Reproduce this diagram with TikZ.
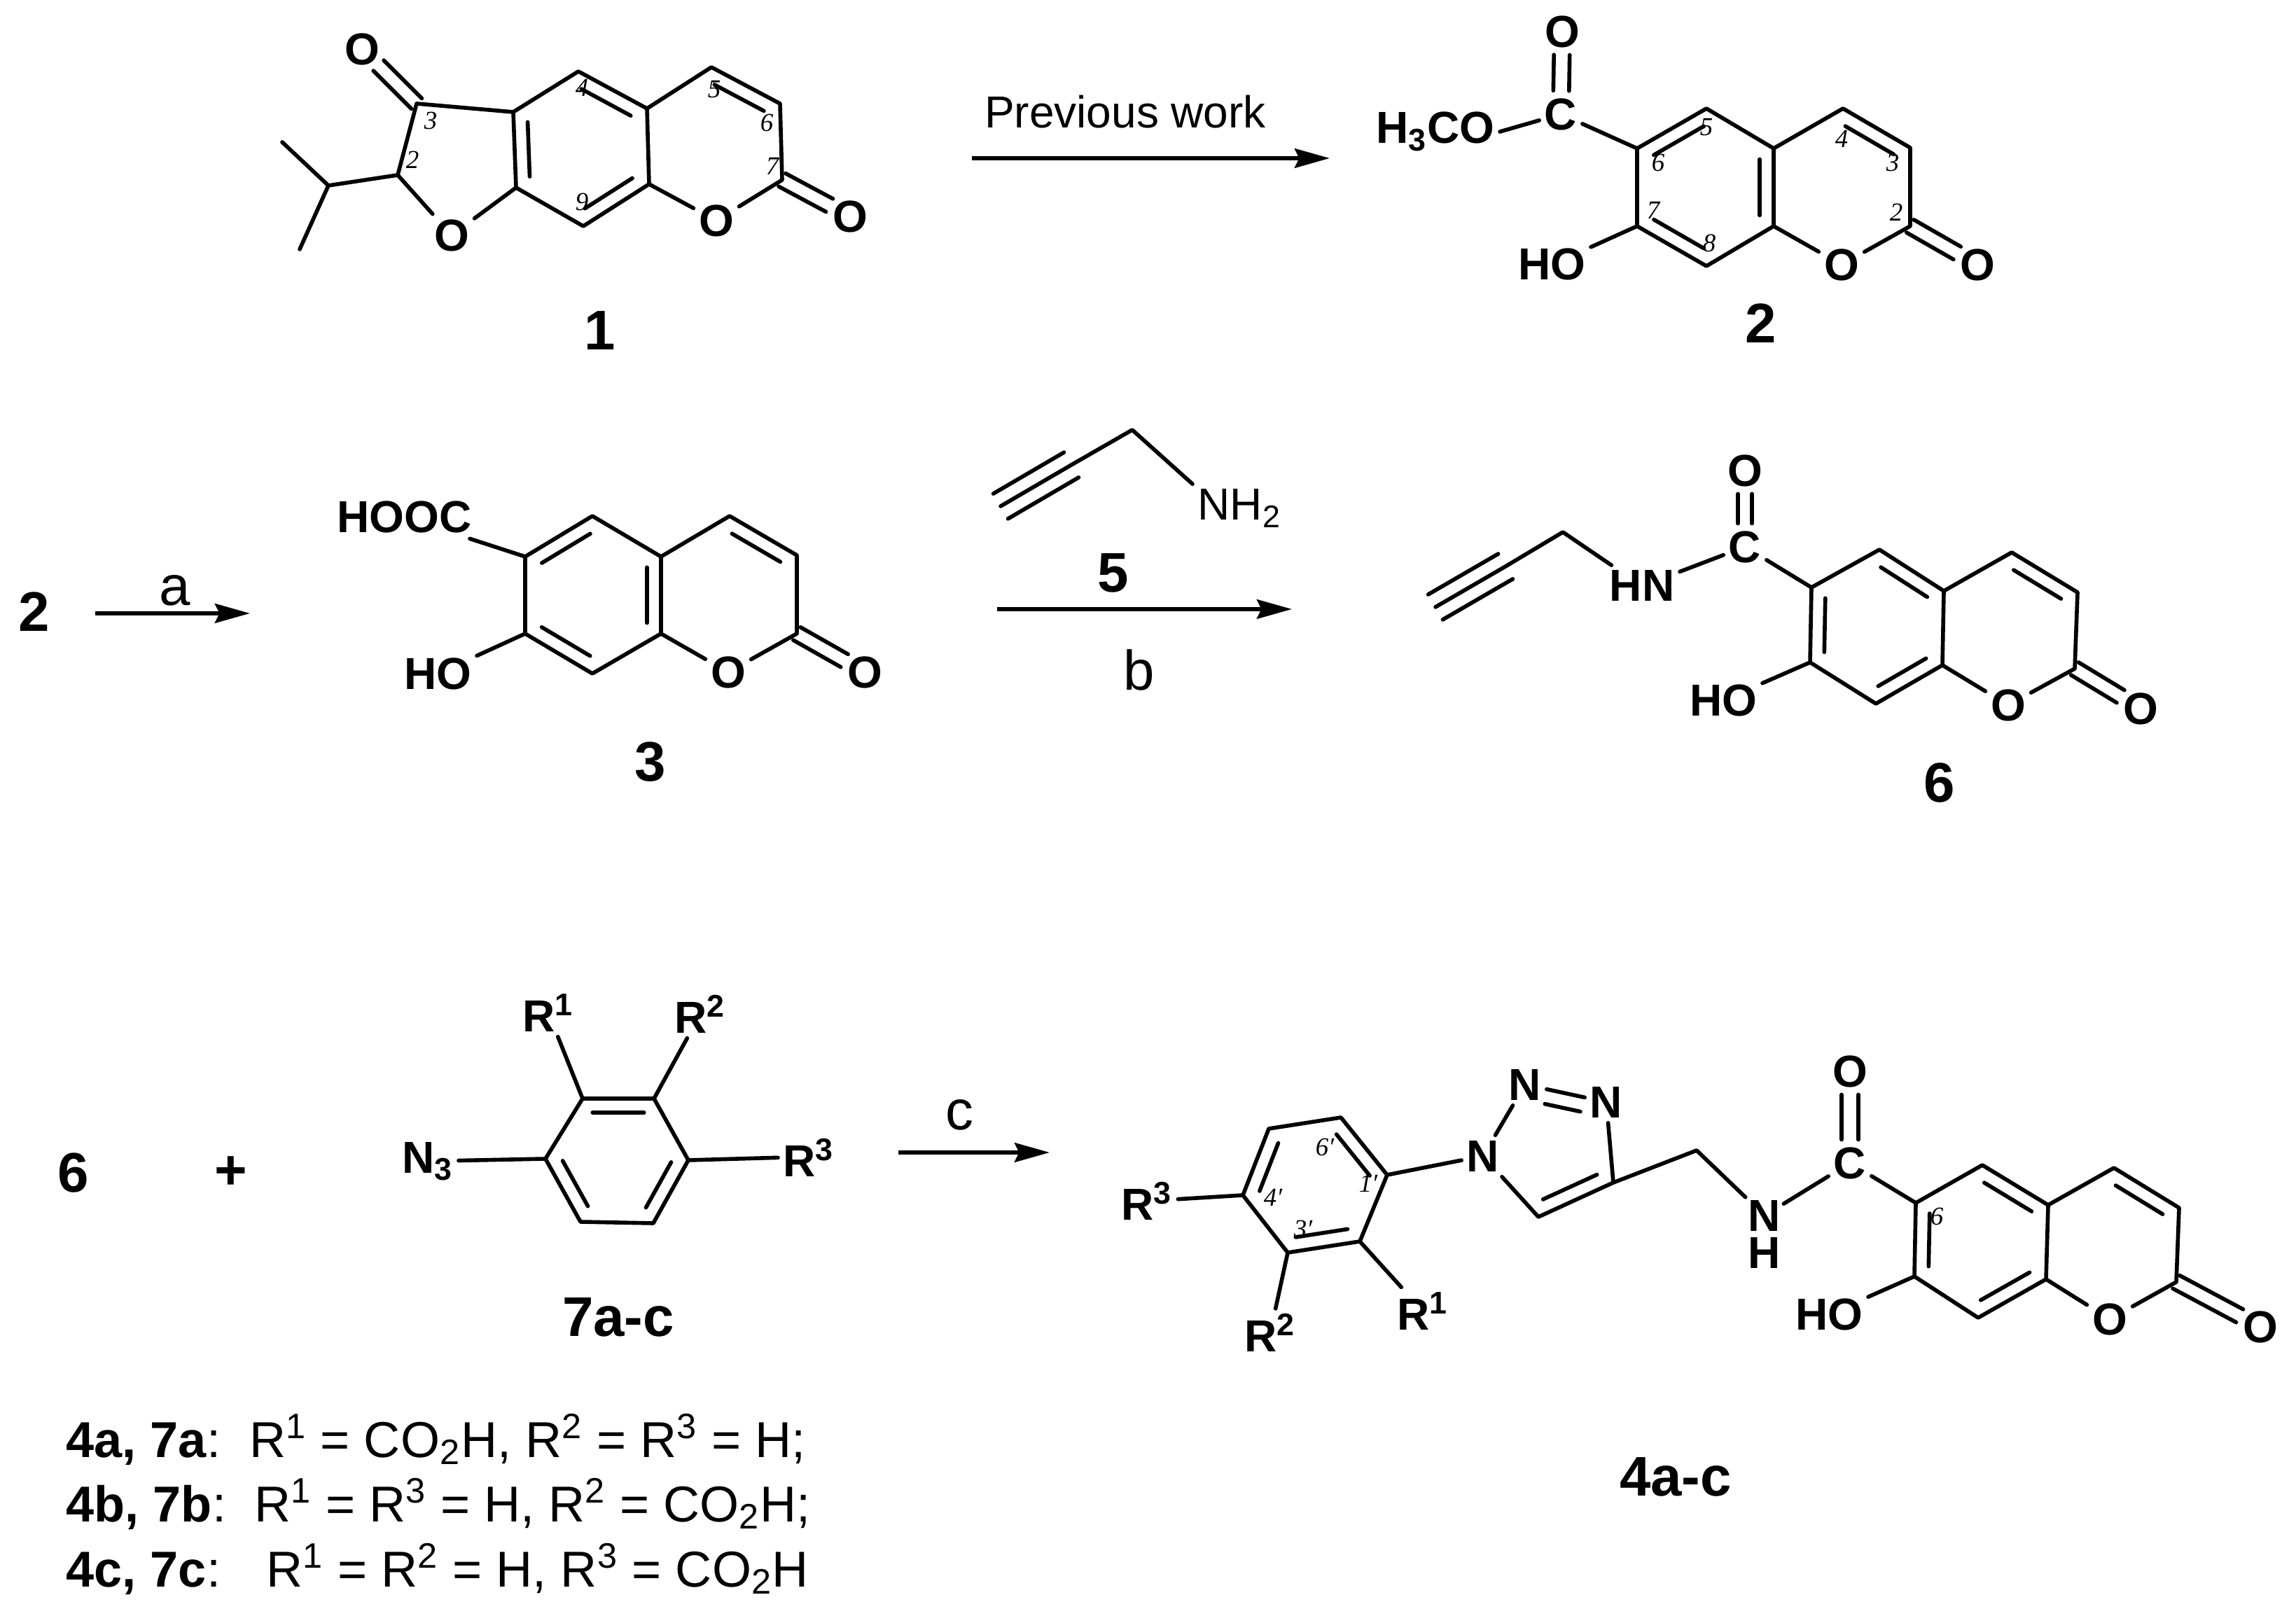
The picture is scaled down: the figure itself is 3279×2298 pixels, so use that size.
\documentclass[tikz,border=0pt]{standalone}
\usepackage{fontspec}
\setmainfont{Liberation Sans}
\newfontfamily\serifnum{Liberation Serif}
\usetikzlibrary{arrows.meta,calc,positioning}

% inner line of a ring bond, walking the ring clockwise
\newcommand{\ringbond}[2]{\draw[bond] ($(#1)!0.14!(#2)!5.7pt!-90:(#2)$) -- ($(#2)!0.14!(#1)!5.7pt!90:(#1)$);}
% one line beside the axis of a bond
\newcommand{\offbond}[4][]{\draw[bond,#1] ($(#2)!#4!90:(#3)$) -- ($(#3)!#4!-90:(#2)$);}

\begin{document}
\begin{tikzpicture}[x=0.01cm,y=-0.01cm, arrow/.style = {line width=1.7pt,-{Stealth[length=14.2pt,width=7.8pt,inset=1.8pt]}}]
	\tikzset{bond/.style={line width=1.6pt,line cap=round,line join=round}}
	\tikzset{oend/.style={shorten >=9.5pt}}
	\tikzset{cend/.style={shorten >=9.5pt,shorten <=9.5pt}}
	\tikzset{atom/.style={inner sep=2pt,font=\fontsize{18.2}{20}\selectfont\bfseries}}
	\tikzset{plain/.style={inner sep=2pt,font=\fontsize{18.2}{20}\selectfont}}
	\tikzset{reagent/.style={inner sep=0pt,font=\fontsize{22.7}{24}\selectfont}}
	\tikzset{compound/.style={inner sep=0pt,font=\fontsize{22.7}{24}\selectfont\bfseries}}
	\tikzset{locant/.style={inner sep=0pt,font=\fontsize{10.5}{11}\selectfont\serifnum\itshape}}
	\tikzset{legend/.style={inner sep=0pt,anchor=base west,font=\fontsize{20.5}{22}\selectfont}}

	\useasboundingbox (0,0) rectangle (3279,2298);

	% Compound 1
	\coordinate (m1ca) at (595,148);
	\coordinate (m1cb) at (568,250);
	\coordinate (m1cc) at (469,265);
	\coordinate (m1cd) at (403,203);
	\coordinate (m1ce) at (428,356);
	\coordinate (m1cf) at (737,268);
	\coordinate (m1cg) at (733,160);
	\coordinate (m1ch) at (826,102);
	\coordinate (m1ci) at (924,155);
	\coordinate (m1cj) at (927,263);
	\coordinate (m1ck) at (833,323);
	\coordinate (m1cm) at (1117,257);
	\coordinate (m1cn) at (1114,148);
	\coordinate (m1cp) at (1016,96);
	\node[atom] (m1o) at (645,336) {O};
	\node[atom] (m1ol) at (1023,315) {O};
	\node[atom] (m1oq) at (1214,309) {O};
	\node[atom] (m1or) at (517,70) {O};

	\draw[bond] (m1cg) -- (m1ch) -- (m1ci) -- (m1cj) -- (m1ck) -- (m1cf) -- cycle;
	\draw[bond] (m1cg) -- (m1ca) -- (m1cb) -- (m1o) -- (m1cf);
	\draw[bond] (m1cb) -- (m1cc) -- (m1cd);
	\draw[bond] (m1cc) -- (m1ce);
	\draw[bond] (m1ci) -- (m1cp) -- (m1cn) -- (m1cm) -- (m1ol) -- (m1cj);
	\ringbond{m1ch}{m1ci}
	\ringbond{m1cj}{m1ck}
	\ringbond{m1cf}{m1cg}
	\ringbond{m1cp}{m1cn}
	\offbond[oend]{m1ca}{m1or}{3pt}
	\offbond[oend]{m1ca}{m1or}{-3pt}
	\offbond[oend]{m1cm}{m1oq}{3pt}
	\offbond[oend]{m1cm}{m1oq}{-3pt}

	\node[locant] (m1l3) at (615,172) {3};
	\node[locant] (m1l2) at (589,228) {2};
	\node[locant] (m1l4) at (831,125) {4};
	\node[locant] (m1l9) at (831,288) {9};
	\node[locant] (m1l5) at (1020,128) {5};
	\node[locant] (m1l6) at (1095,175) {6};
	\node[locant] (m1l7) at (1103,237) {7};
	\node[compound] (lab1) at (857,472) {1};

	% Previous work arrow
	\coordinate (prevs) at (1388,226);
	\coordinate (preve) at (1899,226);
	\draw[arrow] (prevs) -- (preve);
	\node[plain] (prevtxt) at (1607,160) {Previous work};

	% Compound 2
	\coordinate (m2ce) at (2437,155);
	\coordinate (m2cf) at (2338,212);
	\coordinate (m2cd) at (2533,212);
	\coordinate (m2cg) at (2533,323);
	\coordinate (m2ch) at (2437,380);
	\coordinate (m2ci) at (2338,323);
	\coordinate (m2cj) at (2632,155);
	\coordinate (m2ck) at (2728,211);
	\coordinate (m2cl) at (2728,323);
	\node[atom] (m2c) at (2229,163) {C};
	\node[atom] (m2ot) at (2231,45) {O};
	\node[atom,anchor=base east] (m2me) at (2142,205) {H\textsubscript{3}CO};
	\node[atom,anchor=base east] (m2ho) at (2272,400) {HO};
	\node[atom] (m2ol) at (2630,378) {O};
	\node[atom] (m2oq) at (2824,378) {O};

	\draw[bond] (m2cf) -- (m2ce) -- (m2cd) -- (m2cg) -- (m2ch) -- (m2ci) -- cycle;
	\draw[bond] (m2cd) -- (m2cj) -- (m2ck) -- (m2cl) -- (m2ol) -- (m2cg);
	\draw[bond] (m2cf) -- (m2c);
	\draw[bond] (m2c) -- (m2me.east);
	\draw[bond] (m2ci) -- (m2ho);
	\ringbond{m2cf}{m2ce}
	\ringbond{m2cd}{m2cg}
	\ringbond{m2ch}{m2ci}
	\ringbond{m2cj}{m2ck}
	\offbond[cend]{m2c}{m2ot}{3.2pt}
	\offbond[cend]{m2c}{m2ot}{-3.2pt}
	\offbond[oend]{m2cl}{m2oq}{3pt}
	\offbond[oend]{m2cl}{m2oq}{-3pt}

	\node[locant] (m2l5) at (2437,182) {5};
	\node[locant] (m2l6) at (2368,232) {6};
	\node[locant] (m2l4) at (2630,198) {4};
	\node[locant] (m2l3) at (2703,232) {3};
	\node[locant] (m2l7) at (2361,300) {7};
	\node[locant] (m2l8) at (2441,347) {8};
	\node[locant] (m2l2) at (2708,303) {2};
	\node[compound] (lab2) at (2515,462) {2};

	% Step a
	\node[compound] (lab2b) at (49,874) {2};
	\coordinate (as) at (136,876);
	\coordinate (ae) at (357,876);
	\draw[arrow] (as) -- (ae);
	\node[reagent] (atxt) at (250,843) {a};

	% Compound 3
	\coordinate (m3ce) at (846,737);
	\coordinate (m3cf) at (750,795);
	\coordinate (m3cd) at (944,795);
	\coordinate (m3cg) at (944,905);
	\coordinate (m3ch) at (846,962);
	\coordinate (m3ci) at (750,905);
	\coordinate (m3cj) at (1042,737);
	\coordinate (m3ck) at (1138,793);
	\coordinate (m3cl) at (1138,905);
	\node[atom,anchor=base east] (m3acid) at (681,761) {HOOC};
	\node[atom,anchor=base east] (m3ho) at (681,984) {HO};
	\node[atom] (m3ol) at (1040,960) {O};
	\node[atom] (m3oq) at (1235,960) {O};

	\draw[bond] (m3cf) -- (m3ce) -- (m3cd) -- (m3cg) -- (m3ch) -- (m3ci) -- cycle;
	\draw[bond] (m3cd) -- (m3cj) -- (m3ck) -- (m3cl) -- (m3ol) -- (m3cg);
	\draw[bond] (m3cf) -- (m3acid);
	\draw[bond] (m3ci) -- (m3ho);
	\ringbond{m3cf}{m3ce}
	\ringbond{m3cd}{m3cg}
	\ringbond{m3ch}{m3ci}
	\ringbond{m3cj}{m3ck}
	\offbond[oend]{m3cl}{m3oq}{3pt}
	\offbond[oend]{m3cl}{m3oq}{-3pt}
	\node[compound] (lab3) at (929,1088) {3};

	% Compound 5 and step b
	\coordinate (m5a) at (1429,723);
	\coordinate (m5b) at (1530,664);
	\coordinate (m5c) at (1617,614);
	\node[plain,anchor=base west] (m5n) at (1703,743) {NH\textsubscript{2}};
	\draw[bond] (m5a) -- (m5b) -- (m5c) -- (m5n.north west);
	\offbond{m5a}{m5b}{5.9pt}
	\offbond{m5a}{m5b}{-5.9pt}
	\node[compound] (lab5) at (1590,818) {5};
	\coordinate (bs) at (1424,870);
	\coordinate (be) at (1845,870);
	\draw[arrow] (bs) -- (be);
	\node[reagent] (btxt) at (1627,957) {b};

	% Compound 6
	\coordinate (m6a) at (2050,867);
	\coordinate (m6b) at (2150,809);
	\coordinate (m6m) at (2232,760);
	\coordinate (m6ce) at (2684,785);
	\coordinate (m6cf) at (2587,839);
	\coordinate (m6cd) at (2776,844);
	\coordinate (m6cg) at (2774,950);
	\coordinate (m6ch) at (2679,1005);
	\coordinate (m6ci) at (2585,946);
	\coordinate (m6cj) at (2873,789);
	\coordinate (m6ck) at (2967,846);
	\coordinate (m6cl) at (2963,955);
	\node[atom] (m6c) at (2492,781) {C};
	\node[atom] (m6ot) at (2492,672) {O};
	\node[atom,anchor=base east] (m6nh) at (2399,859) {HN};
	\node[atom,anchor=base east] (m6ho) at (2517,1022) {HO};
	\node[atom] (m6ol) at (2868,1007) {O};
	\node[atom] (m6oq) at (3057,1012) {O};

	\draw[bond] (m6cf) -- (m6ce) -- (m6cd) -- (m6cg) -- (m6ch) -- (m6ci) -- cycle;
	\draw[bond] (m6cd) -- (m6cj) -- (m6ck) -- (m6cl) -- (m6ol) -- (m6cg);
	\draw[bond] (m6cf) -- (m6c) -- (m6nh) -- (m6m) -- (m6b) -- (m6a);
	\draw[bond] (m6ci) -- (m6ho);
	\offbond{m6a}{m6b}{5.9pt}
	\offbond{m6a}{m6b}{-5.9pt}
	\ringbond{m6ci}{m6cf}
	\ringbond{m6ce}{m6cd}
	\ringbond{m6cg}{m6ch}
	\ringbond{m6cj}{m6ck}
	\offbond[cend]{m6c}{m6ot}{2.8pt}
	\offbond[cend]{m6c}{m6ot}{-2.8pt}
	\offbond[oend]{m6cl}{m6oq}{3pt}
	\offbond[oend]{m6cl}{m6oq}{-3pt}
	\node[compound] (lab6) at (2770,1118) {6};

	% Reactants of step c
	\node[compound] (lab6b) at (105,1675) {6};
	\node[compound] (plus) at (330,1675) {+};

	% Compound 7
	\coordinate (m7ca) at (832,1569);
	\coordinate (m7cb) at (934,1569);
	\coordinate (m7cc) at (983,1657);
	\coordinate (m7cd) at (933,1747);
	\coordinate (m7ce) at (829,1745);
	\coordinate (m7cf) at (779,1655);
	\node[atom,anchor=base west] (m7r1) at (739,1473) {R\textsuperscript{1}};
	\node[atom,anchor=base west] (m7r2) at (956,1475) {R\textsuperscript{2}};
	\node[atom,anchor=base west] (m7r3) at (1111,1680) {R\textsuperscript{3}};
	\node[atom,anchor=base east] (m7n3) at (655,1675) {N\textsubscript{3}};

	\draw[bond] (m7ca) -- (m7cb) -- (m7cc) -- (m7cd) -- (m7ce) -- (m7cf) -- cycle;
	\draw[bond] (m7ca) -- (m7r1);
	\draw[bond] (m7cb) -- (m7r2);
	\draw[bond] (m7cc) -- (m7r3.west);
	\draw[bond] (m7cf) -- (m7n3);
	\ringbond{m7ca}{m7cb}
	\ringbond{m7cc}{m7cd}
	\ringbond{m7ce}{m7cf}
	\node[compound,anchor=base] (lab7) at (883,1908) {7a-c};

	% Step c
	\coordinate (cs) at (1283,1646);
	\coordinate (ce) at (1499,1646);
	\draw[arrow] (cs) -- (ce);
	\node[reagent] (ctxt) at (1370,1592) {c};

	% Compound 4, phenyl and triazole
	\coordinate (m4pa) at (1981,1678);
	\coordinate (m4pb) at (1942,1773);
	\coordinate (m4pc) at (1839,1789);
	\coordinate (m4pd) at (1775,1707);
	\coordinate (m4pe) at (1812,1612);
	\coordinate (m4pf) at (1915,1596);
	\coordinate (m4ta) at (2304,1689);
	\coordinate (m4tb) at (2197,1738);
	\coordinate (m4m) at (2423,1643);
	\node[atom] (m4na) at (2118,1651) {N};
	\node[atom] (m4nb) at (2178,1549) {N};
	\node[atom] (m4nc) at (2294,1574) {N};
	\node[atom,inner sep=1pt] (m4nh) at (2520,1736) {N};
	\node[atom,inner sep=0pt] (m4h) at (2520,1789) {H};
	\node[atom,anchor=base west] (m4r1) at (1988,1899) {R\textsuperscript{1}};
	\node[atom,anchor=base west] (m4r2) at (1770,1930) {R\textsuperscript{2}};
	\node[atom,anchor=base west] (m4r3) at (1594,1742) {R\textsuperscript{3}};

	\draw[bond] (m4pa) -- (m4pb) -- (m4pc) -- (m4pd) -- (m4pe) -- (m4pf) -- cycle;
	\draw[bond] (m4pb) -- (m4r1);
	\draw[bond] (m4pc) -- (m4r2);
	\draw[bond] (m4pd) -- (m4r3);
	\draw[bond] (m4pa) -- (m4na) -- (m4nb);
	\draw[bond] (m4nb) -- (m4nc) -- (m4ta) -- (m4tb) -- (m4na);
	\offbond[cend]{m4nb}{m4nc}{-6pt}
	\draw[bond] (m4ta) -- (m4m) -- (m4nh);
	\ringbond{m4pb}{m4pc}
	\ringbond{m4pd}{m4pe}
	\ringbond{m4pf}{m4pa}
	\ringbond{m4ta}{m4tb}

	% Compound 4, coumarin
	\coordinate (m4ce) at (2831,1664);
	\coordinate (m4cf) at (2736,1718);
	\coordinate (m4cd) at (2925,1721);
	\coordinate (m4cg) at (2922,1827);
	\coordinate (m4ch) at (2825,1882);
	\coordinate (m4ci) at (2734,1823);
	\coordinate (m4cj) at (3019,1668);
	\coordinate (m4ck) at (3112,1725);
	\coordinate (m4cl) at (3108,1831);
	\node[atom] (m4c) at (2642,1661) {C};
	\node[atom] (m4ot) at (2642,1530) {O};
	\node[atom,anchor=base east] (m4ho) at (2668,1899) {HO};
	\node[atom] (m4ol) at (3013,1884) {O};
	\node[atom] (m4oq) at (3228,1895) {O};

	\draw[bond] (m4cf) -- (m4ce) -- (m4cd) -- (m4cg) -- (m4ch) -- (m4ci) -- cycle;
	\draw[bond] (m4cd) -- (m4cj) -- (m4ck) -- (m4cl) -- (m4ol) -- (m4cg);
	\draw[bond] (m4cf) -- (m4c) -- (m4nh);
	\draw[bond] (m4ci) -- (m4ho);
	\ringbond{m4ci}{m4cf}
	\ringbond{m4ce}{m4cd}
	\ringbond{m4cg}{m4ch}
	\ringbond{m4cj}{m4ck}
	\offbond[cend]{m4c}{m4ot}{3.4pt}
	\offbond[cend]{m4c}{m4ot}{-3.4pt}
	\offbond[oend]{m4cl}{m4oq}{3pt}
	\offbond[oend]{m4cl}{m4oq}{-3pt}

	\node[locant] (m4l6p) at (1892,1638) {6′};
	\node[locant] (m4l1p) at (1954,1690) {1′};
	\node[locant] (m4l4p) at (1818,1710) {4′};
	\node[locant] (m4l3p) at (1861,1755) {3′};
	\node[locant] (m4l6) at (2766,1737) {6};
	\node[compound,anchor=base] (lab4) at (2393,2136) {4a-c};

	% R groups
	\node[legend] (lega) at (94,2081) {\textbf{4a, 7a}:\hspace{0.56em}R\textsuperscript{1} = CO\textsubscript{2}H, R\textsuperscript{2} = R\textsuperscript{3} = H;};
	\node[legend] (legb) at (94,2173) {\textbf{4b, 7b}:\hspace{0.56em}R\textsuperscript{1} = R\textsuperscript{3} = H, R\textsuperscript{2} = CO\textsubscript{2}H;};
	\node[legend] (legc) at (94,2266) {\textbf{4c, 7c}:\hspace{0.91em}R\textsuperscript{1} = R\textsuperscript{2} = H, R\textsuperscript{3} = CO\textsubscript{2}H};

\end{tikzpicture}
\end{document}
